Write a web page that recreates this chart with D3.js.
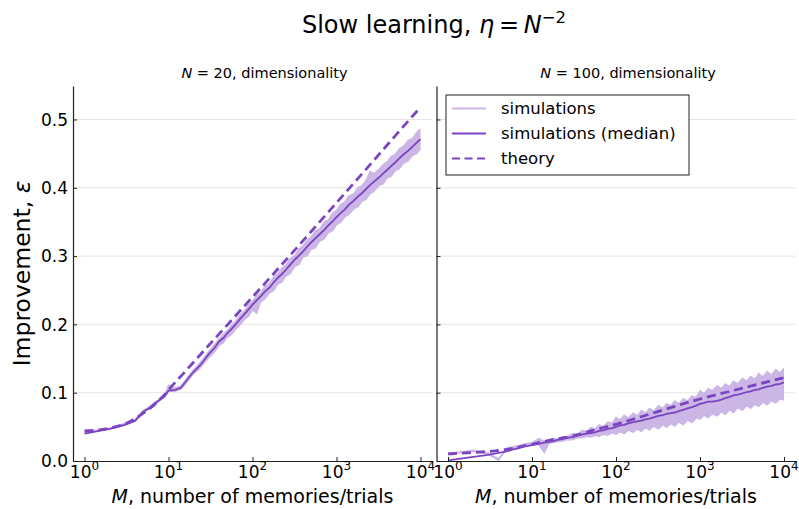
<!DOCTYPE html>
<html>
<head>
<meta charset="utf-8">
<script src="https://cdn.jsdelivr.net/npm/d3@7"></script>
<style>
  body { margin: 0; background: #fff; }
  svg { display: block; font-family: "DejaVu Sans", sans-serif; }
</style>
</head>
<body>
<svg id="chart" width="799" height="509"></svg>
<script>
// ---- data ---------------------------------------------------------------
// number of memories / trials at which the simulation summary is sampled
const memories = [1,2,3,4,5,6,7,8,9,10,
  12,14,16,18,20,23,26,30,35,40,45,50,56,63,70,80,90,100,
  112,125,140,160,180,200,225,250,280,320,360,400,450,500,560,630,710,800,900,1000,
  1120,1250,1400,1600,1800,2000,2250,2500,2800,3200,3600,4000,4500,5000,5600,6300,7100,8000,9000,10000];

// N = 20
const median20 = [0.040,0.047,0.053,0.059,0.072,0.078,0.085,0.090,0.095,0.103,
  0.104,0.107,0.116,0.124,0.131,0.138,0.146,0.156,0.165,0.175,0.180,0.187,0.193,0.200,0.207,0.215,0.222,0.229,
  0.235,0.241,0.248,0.254,0.262,0.268,0.274,0.280,0.287,0.295,0.301,0.307,0.314,0.320,0.326,0.332,0.338,0.345,0.351,0.357,
  0.363,0.368,0.375,0.381,0.387,0.392,0.398,0.404,0.409,0.415,0.421,0.426,0.432,0.437,0.443,0.449,0.454,0.460,0.466,0.471];
const simLow20 = [0.040,0.047,0.052,0.058,0.071,0.077,0.084,0.089,0.094,0.102,
  0.102,0.105,0.113,0.121,0.128,0.134,0.142,0.151,0.159,0.169,0.173,0.181,0.185,0.193,0.198,0.207,0.212,0.221,
  0.216,0.233,0.237,0.246,0.250,0.259,0.262,0.271,0.274,0.285,0.288,0.298,0.301,0.310,0.312,0.322,0.325,0.334,0.337,0.346,
  0.349,0.357,0.361,0.369,0.372,0.380,0.383,0.391,0.395,0.403,0.406,0.414,0.417,0.425,0.428,0.436,0.439,0.447,0.450,0.457];
const simHigh20 = [0.042,0.048,0.055,0.060,0.074,0.080,0.087,0.092,0.097,0.111,
  0.107,0.110,0.119,0.127,0.134,0.142,0.150,0.160,0.170,0.179,0.186,0.191,0.199,0.205,0.213,0.220,0.229,0.234,
  0.242,0.246,0.256,0.260,0.270,0.274,0.283,0.287,0.296,0.301,0.311,0.315,0.324,0.328,0.337,0.340,0.350,0.353,0.363,0.367,
  0.376,0.379,0.388,0.391,0.400,0.403,0.411,0.424,0.421,0.427,0.434,0.438,0.446,0.449,0.457,0.461,0.469,0.472,0.481,0.486];
const theoryM20 = [1,2,3,4,5,6,7,8,9,10,15,20,30,50,70,100,200,500,1000,2000,5000,10000];
const theory20 = [0.044,0.048,0.054,0.062,0.070,0.077,0.084,0.091,0.097,0.104,0.128,0.145,0.169,0.199,0.219,0.240,0.281,0.336,0.378,0.420,0.476,0.518];

// N = 100
const median100 = [0.001,0.006,0.009,0.012,0.014,0.017,0.019,0.021,0.022,0.0234,
  0.025,0.027,0.028,0.029,0.031,0.032,0.034,0.035,0.037,0.039,0.040,0.041,0.042,0.044,0.045,0.047,0.048,0.050,
  0.052,0.053,0.055,0.057,0.058,0.059,0.061,0.062,0.064,0.066,0.067,0.069,0.070,0.071,0.073,0.075,0.077,0.079,0.081,0.0835,
  0.085,0.087,0.087,0.088,0.090,0.092,0.094,0.096,0.097,0.099,0.101,0.102,0.104,0.105,0.107,0.109,0.110,0.112,0.113,0.115];
const simLow100 = [0.010,0.014,0.010,0.001,0.018,0.019,0.021,0.022,0.023,0.024,
  0.024,0.012,0.026,0.027,0.028,0.029,0.031,0.031,0.034,0.034,0.036,0.035,0.037,0.036,0.039,0.038,0.041,0.039,
  0.043,0.040,0.045,0.042,0.047,0.043,0.049,0.045,0.051,0.047,0.053,0.049,0.055,0.051,0.057,0.053,0.060,0.056,0.063,0.061,
  0.067,0.063,0.069,0.066,0.072,0.068,0.075,0.071,0.078,0.074,0.081,0.077,0.083,0.080,0.086,0.082,0.088,0.085,0.091,0.089];
const simHigh100 = [0.011,0.016,0.012,0.003,0.019,0.021,0.023,0.025,0.026,0.027,
  0.033,0.029,0.030,0.033,0.032,0.036,0.035,0.040,0.040,0.045,0.043,0.049,0.047,0.053,0.050,0.057,0.055,0.064,
  0.060,0.067,0.063,0.070,0.066,0.074,0.070,0.077,0.073,0.081,0.077,0.084,0.081,0.088,0.084,0.091,0.088,0.095,0.093,0.103,
  0.099,0.106,0.103,0.110,0.106,0.113,0.109,0.117,0.113,0.121,0.117,0.124,0.120,0.128,0.123,0.131,0.126,0.134,0.129,0.136];
const theoryM100 = [1,2,3,5,7,10,20,30,50,100,200,500,1000,2000,5000,10000];
const theory100 = [0.0103,0.0125,0.0140,0.0170,0.0205,0.0245,0.0325,0.0362,0.0440,0.0538,0.0648,0.0800,0.0908,0.1003,0.1127,0.1220];

const xTicks = [1, 10, 100, 1000, 10000];
const xTickExponents = ["0", "1", "2", "3", "4"];
const yTicks = [0, 0.1, 0.2, 0.3, 0.4, 0.5];
const yTickLabels = ["0.0", "0.1", "0.2", "0.3", "0.4", "0.5"];
const panelN = ["20", "100"];
const legendLabels = ["simulations", "simulations (median)", "theory"];

// ---- layout & style -----------------------------------------------------
const DARK = "#7b44c0";
const LIGHT = "#cbb6e6";
const plotTop = 86, plotBottom = 461;
const panels = [
  { left: 73, right: 432, n: panelN[0], median: median20, lo: simLow20, hi: simHigh20, tM: theoryM20, t: theory20, labels: true },
  { left: 436.5, right: 795.5, n: panelN[1], median: median100, lo: simLow100, hi: simHigh100, tM: theoryM100, t: theory100, labels: false }
];

const svg = d3.select("#chart");
const y = d3.scaleLinear().domain([0, 0.549]).range([plotBottom, plotTop]);
const logPad = 0.137;

// title
const title = svg.append("text").attr("x", 434).attr("y", 33)
  .attr("text-anchor", "middle").attr("font-size", 24).attr("fill", "#000");
title.append("tspan").text("Slow learning, ");
title.append("tspan").attr("font-style", "italic").text("η");
title.append("tspan").text("\u2009=\u2009");
title.append("tspan").attr("font-style", "italic").text("N");
title.append("tspan").attr("font-size", 16.5).attr("dy", -10).text("\u22122");

panels.forEach((p) => {
  const x = d3.scaleLog().domain([Math.pow(10, -logPad), Math.pow(10, 4 + logPad)]).range([p.left, p.right]);
  const g = svg.append("g");

  // horizontal grid
  g.append("g").selectAll("line").data(yTicks.slice(1)).join("line")
    .attr("x1", p.left).attr("x2", p.right)
    .attr("y1", d => y(d)).attr("y2", d => y(d))
    .attr("stroke", "#e6e6e6").attr("stroke-width", 1);

  const rows = memories.map((m, i) => ({ m, lo: p.lo[i], hi: p.hi[i], med: p.median[i] }));

  // spread of the individual simulation runs
  g.append("path").datum(rows)
    .attr("d", d3.area().x(d => x(d.m)).y0(d => y(d.lo)).y1(d => y(d.hi)))
    .attr("fill", LIGHT).attr("stroke", "none");
  ["lo", "hi"].forEach(k => {
    g.append("path").datum(rows)
      .attr("d", d3.line().x(d => x(d.m)).y(d => y(d[k])))
      .attr("fill", "none").attr("stroke", LIGHT).attr("stroke-width", 1.3);
  });

  // median across simulations
  g.append("path").datum(rows)
    .attr("d", d3.line().x(d => x(d.m)).y(d => y(d.med)))
    .attr("fill", "none").attr("stroke", DARK).attr("stroke-width", 1.8);

  // theory
  g.append("path").datum(p.tM.map((m, i) => ({ m, v: p.t[i] })))
    .attr("d", d3.line().curve(d3.curveMonotoneX).x(d => x(d.m)).y(d => y(d.v)))
    .attr("fill", "none").attr("stroke", DARK).attr("stroke-width", 2.8)
    .attr("stroke-dasharray", "9,5");

  // axes
  const xAxis = g.append("g").attr("transform", `translate(0,${plotBottom})`)
    .call(d3.axisBottom(x).tickValues(xTicks).tickSize(-4).tickSizeOuter(0).tickFormat(""));
  xAxis.select(".domain").attr("stroke", "#222").attr("stroke-width", 1.2);
  xAxis.selectAll(".tick line").attr("stroke", "#222");
  xAxis.selectAll(".tick text").remove();
  xTicks.forEach((t, i) => {
    const lbl = g.append("text").attr("x", x(t)).attr("y", 478)
      .attr("text-anchor", "middle").attr("font-size", 17).attr("fill", "#000");
    lbl.append("tspan").text("10");
    lbl.append("tspan").attr("font-size", 12).attr("dy", -8).text(xTickExponents[i]);
  });

  const yAxis = g.append("g").attr("transform", `translate(${p.left},0)`)
    .call(d3.axisLeft(y).tickValues(yTicks).tickSize(-4).tickSizeOuter(0).tickFormat(""));
  yAxis.select(".domain").attr("stroke", "#222").attr("stroke-width", 1.2);
  yAxis.selectAll(".tick line").attr("stroke", "#222");
  yAxis.selectAll(".tick text").remove();
  if (p.labels) {
    g.append("g").selectAll("text").data(yTicks).join("text")
      .attr("x", p.left - 5).attr("y", d => y(d) + 6.2)
      .attr("text-anchor", "end").attr("font-size", 17).attr("fill", "#000")
      .text((d, i) => yTickLabels[i]);
  }

  // panel title
  const cx = (p.left + p.right) / 2;
  const st = g.append("text").attr("x", cx + 12).attr("y", 78)
    .attr("text-anchor", "middle").attr("font-size", 14.5).attr("fill", "#000");
  st.append("tspan").attr("font-style", "italic").text("N");
  st.append("tspan").text(" = " + p.n + ", dimensionality");

  // x label
  const xl = g.append("text").attr("x", cx).attr("y", 503)
    .attr("text-anchor", "middle").attr("font-size", 19).attr("fill", "#000");
  xl.append("tspan").attr("font-style", "italic").text("M");
  xl.append("tspan").text(", number of memories/trials");
});

// y label
const yl = svg.append("text").attr("transform", "translate(30,273.5) rotate(-90)")
  .attr("text-anchor", "middle").attr("font-size", 23.5).attr("fill", "#000");
yl.append("tspan").text("Improvement, ");
yl.append("tspan").attr("font-style", "italic").text("ε");

// legend
const lg = svg.append("g").attr("transform", "translate(446,95)");
lg.append("rect").attr("width", 243).attr("height", 80)
  .attr("fill", "#fff").attr("stroke", "#222").attr("stroke-width", 1);
const legendStyles = [
  { stroke: LIGHT, width: 2, dash: null },
  { stroke: DARK, width: 2, dash: null },
  { stroke: DARK, width: 2.2, dash: "8,4.5" }
];
legendLabels.forEach((lab, i) => {
  const yy = 13.5 + i * 25;
  lg.append("line").attr("x1", 6).attr("x2", 40).attr("y1", yy).attr("y2", yy)
    .attr("stroke", legendStyles[i].stroke).attr("stroke-width", legendStyles[i].width)
    .attr("stroke-dasharray", legendStyles[i].dash);
  lg.append("text").attr("x", 55).attr("y", yy + 5.8)
    .attr("font-size", 16.5).attr("fill", "#000").text(lab);
});
</script>
</body>
</html>
